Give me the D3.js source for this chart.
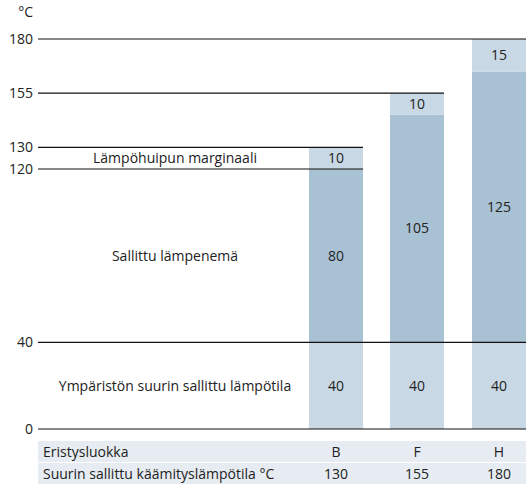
<!DOCTYPE html>
<html><head><meta charset="utf-8">
<script src="https://cdn.jsdelivr.net/npm/d3@7"></script>
<style>body{margin:0;background:#fff}svg{font-family:"Open Sans",sans-serif}</style>
</head><body><svg id="c" width="531" height="489"></svg>
<script>
const classes = ["B","F","H"];
const ambient = [40,40,40];
const rise = [80,105,125];
const margin = [10,10,15];
const maxTemp = [130,155,180];
const ticks = [0,40,120,130,155,180];
const rowLabels = ["Sallittu lämpenemä","Ympäristön suurin sallittu lämpötila","Lämpöhuipun marginaali"];
const tableLabels = ["Eristysluokka","Suurin sallittu käämityslämpötila °C"];

const svg = d3.select("#c");
const y = d3.scaleLinear().domain([0,180]).range([429,39]);
const x = d3.scaleBand().domain(classes).range([309-27,526+27]).paddingInner(0.338).paddingOuter(0);
// adjust band to match: B 309-363, F 390-444, H 472-526
const xb = d3.scaleOrdinal().domain(classes).range([309,390,472]);
const bw = 54;
const light="#c8d8e5", dark="#a8c1d3";

// bars
classes.forEach((c,i)=>{
  const segs=[[0,ambient[i],light],[ambient[i],ambient[i]+rise[i],dark],[ambient[i]+rise[i],maxTemp[i],light]];
  segs.forEach(s=>svg.append("rect").attr("x",xb(c)).attr("width",bw).attr("y",y(s[1])).attr("height",y(s[0])-y(s[1])).attr("fill",s[2]));
  [[ambient[i],(0+ambient[i])/2],[rise[i],ambient[i]+rise[i]/2],[margin[i],ambient[i]+rise[i]+margin[i]/2]].forEach(t=>
    svg.append("text").attr("x",xb(c)+bw/2).attr("y",y(t[1])).attr("dy","0.35em").attr("text-anchor","middle").attr("font-size",14).attr("fill","#222").text(t[0]));
});
// grid lines
const lineEnd = {0:526,40:526,120:363,130:363,155:444,180:526};
ticks.forEach(t=>{
  svg.append("line").attr("x1",38).attr("x2",lineEnd[t]).attr("y1",y(t)).attr("y2",y(t)).attr("stroke","#111").attr("stroke-width",1.2);
  svg.append("text").attr("x",33).attr("y",y(t)).attr("dy","0.35em").attr("text-anchor","end").attr("font-size",14).attr("fill","#222").text(t);
});
svg.append("text").attr("x",33).attr("y",12).attr("dy","0.35em").attr("text-anchor","end").attr("font-size",14).attr("fill","#222").text("°C");
// row labels
[[rowLabels[2],125],[rowLabels[0],80],[rowLabels[1],20]].forEach(r=>
  svg.append("text").attr("x",175).attr("y",y(r[1])).attr("dy","0.35em").attr("text-anchor","middle").attr("font-size",14).attr("fill","#222").text(r[0]));
// table
const rows=[[tableLabels[0],classes],[tableLabels[1],maxTemp]];
rows.forEach((r,j)=>{
  const ty=441+j*22;
  svg.append("rect").attr("x",38).attr("y",ty).attr("width",488).attr("height",21).attr("fill","#e6ecf1");
  svg.append("text").attr("x",43).attr("y",ty+11).attr("dy","0.35em").attr("font-size",14).attr("fill","#222").text(r[0]);
  r[1].forEach((v,i)=>svg.append("text").attr("x",xb(classes[i])+bw/2).attr("y",ty+11).attr("dy","0.35em").attr("text-anchor","middle").attr("font-size",14).attr("fill","#222").text(v));
});
</script></body></html>
